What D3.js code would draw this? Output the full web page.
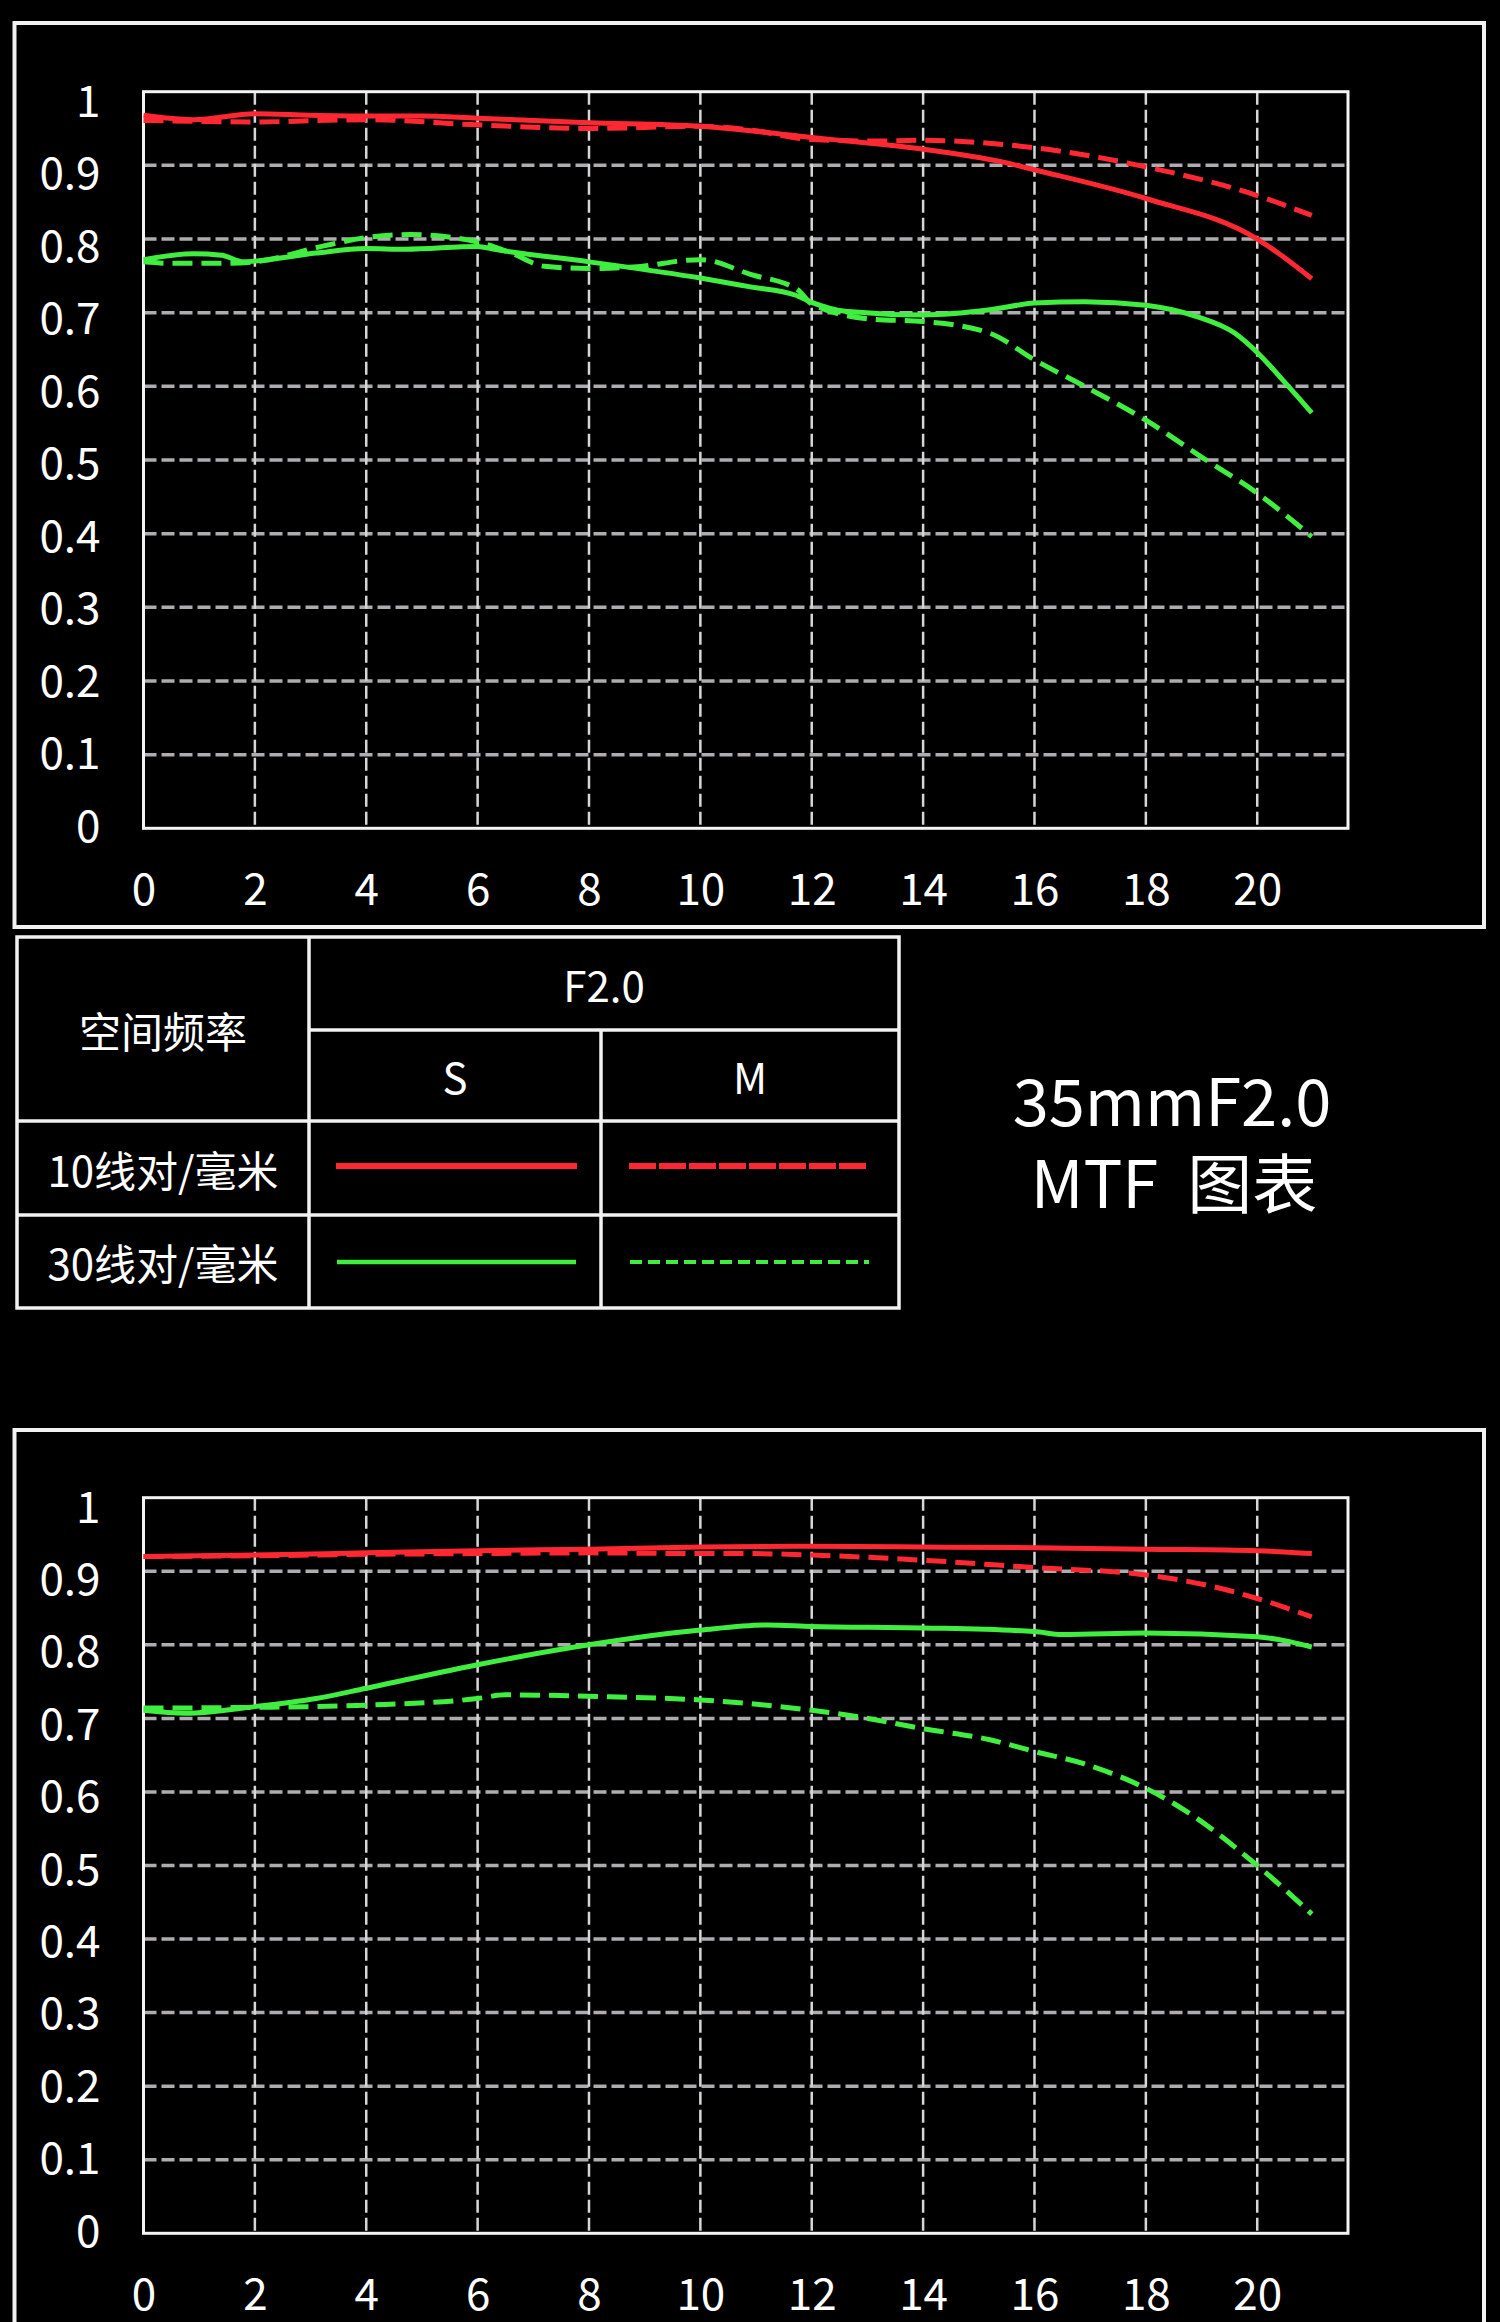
<!DOCTYPE html>
<html>
<head>
<meta charset="utf-8">
<script src="https://cdn.jsdelivr.net/npm/d3@7"></script>
<style>
html,body{margin:0;padding:0;background:#000;}
svg{display:block;}
text{font-family:"Noto Sans CJK SC","Noto Sans",sans-serif;fill:#fff;}
</style>
</head>
<body>
<svg id="chart" width="1500" height="2322"></svg>
<script>
// ---------- data ----------
const xTicks = [0, 2, 4, 6, 8, 10, 12, 14, 16, 18, 20];
const yTicks = [0, 0.1, 0.2, 0.3, 0.4, 0.5, 0.6, 0.7, 0.8, 0.9, 1];
const yTickLabels = ["0", "0.1", "0.2", "0.3", "0.4", "0.5", "0.6", "0.7", "0.8", "0.9", "1"];
const xMax = 21.63;

// chart 1 (top)
const top10S = [[0,0.968],[0.9,0.962],[2,0.970],[3,0.968],[4,0.967],[5,0.967],[6,0.964],[8,0.958],[10,0.953],[10.9,0.947],[12,0.938],[14,0.922],[15.4,0.905],[16,0.894],[18,0.855],[20,0.800],[20.43,0.778],[20.98,0.746]];
const top10M = [[0,0.961],[2,0.959],[4,0.962],[6,0.955],[8,0.950],[10,0.953],[10.9,0.948],[12,0.935],[13.1,0.933],[14,0.934],[15,0.931],[16,0.924],[18,0.898],[20,0.859],[20.98,0.832]];
const top30S = [[0,0.772],[0.9,0.780],[1.4,0.778],[1.8,0.769],[2,0.770],[3.1,0.781],[4,0.787],[4.7,0.786],[6,0.790],[6.3,0.786],[8,0.769],[10,0.747],[10.9,0.735],[11.7,0.724],[12,0.714],[12.6,0.702],[14,0.697],[15.2,0.704],[16,0.713],[16.9,0.715],[18,0.710],[18.9,0.695],[19.6,0.672],[20,0.646],[20.5,0.605],[20.98,0.564]];
const top30M = [[0,0.769],[0.5,0.767],[1.5,0.767],[2,0.769],[3.2,0.790],[4,0.802],[4.8,0.806],[6,0.796],[6.6,0.781],[7.2,0.763],[8,0.760],[8.8,0.762],[10,0.772],[10.9,0.752],[11.75,0.731],[12,0.712],[13.1,0.691],[14,0.688],[15.2,0.672],[16,0.636],[16.9,0.600],[18,0.554],[19,0.504],[20,0.455],[20.98,0.396]];

// chart 2 (bottom)
const bot10S = [[0,0.920],[2,0.922],[4,0.925],[6,0.928],[8,0.930],[10,0.933],[12,0.934],[14,0.933],[16,0.932],[18,0.930],[20,0.928],[20.98,0.924]];
const bot10M = [[0,0.920],[2,0.921],[4,0.923],[6,0.924],[8,0.925],[10,0.924],[10.9,0.924],[12,0.922],[14,0.915],[16,0.905],[18,0.895],[19.1,0.881],[20,0.863],[20.98,0.838]];
const bot30S = [[0,0.711],[0.75,0.707],[2,0.716],[3.1,0.727],[4,0.741],[6,0.773],[8,0.800],[10,0.820],[11.2,0.827],[12,0.825],[14,0.823],[16,0.818],[16.5,0.814],[18,0.816],[20,0.811],[20.6,0.804],[20.98,0.797]];
const bot30M = [[0,0.714],[2,0.715],[4,0.718],[6,0.727],[6.5,0.732],[8,0.730],[10,0.725],[10.9,0.720],[12,0.711],[12.6,0.705],[14,0.686],[15.2,0.671],[16,0.655],[16.9,0.638],[18,0.605],[18.7,0.575],[20,0.500],[20.98,0.434]];

// legend / labels
const tableRowLabels = ["10线对/毫米", "30线对/毫米"];
const tableHeader = ["空间频率", "F2.0", "S", "M"];
const titleLines = ["35mmF2.0", "MTF  图表"];

// ---------- drawing ----------
const RED = "#ff2832", GREEN = "#40ee40";
const svg = d3.select("#chart");
svg.append("rect").attr("width", 1500).attr("height", 2322).attr("fill", "#000");

const plotLeft = 143.5, plotRight = 1348;
const x = d3.scaleLinear().domain([0, xMax]).range([plotLeft, plotRight]);

function drawChart(frameTop, frameBottom, plotTop, plotBottom, series) {
  // outer frame
  svg.append("rect").attr("x", 14.5).attr("y", frameTop).attr("width", 1469.5)
    .attr("height", frameBottom - frameTop).attr("fill", "none")
    .attr("stroke", "#f2f2f2").attr("stroke-width", 4);

  const y = d3.scaleLinear().domain([0, 1]).range([plotBottom, plotTop]);
  // label positions sit slightly off the grid in the reference
  const yLab = d3.scaleLinear().domain([0, 1]).range([plotBottom - 3, plotTop + 8.5]);
  const g = svg.append("g");

  // horizontal grid
  g.selectAll(".hg").data(yTicks.filter(v => v > 0 && v < 1)).enter().append("line")
    .attr("x1", plotLeft).attr("x2", plotRight).attr("y1", d => y(d)).attr("y2", d => y(d))
    .attr("stroke", "#aeacb0").attr("stroke-width", 3.5).attr("stroke-dasharray", "13,5");
  // vertical grid
  g.selectAll(".vg").data(xTicks.filter(v => v > 0)).enter().append("line")
    .attr("x1", d => x(d)).attr("x2", d => x(d)).attr("y1", plotTop).attr("y2", plotBottom)
    .attr("stroke", "#d6d6d6").attr("stroke-width", 2.5).attr("stroke-dasharray", "13,5");

  // plot frame
  g.append("rect").attr("x", plotLeft).attr("y", plotTop).attr("width", plotRight - plotLeft)
    .attr("height", plotBottom - plotTop).attr("fill", "none").attr("stroke", "#f4f4f4").attr("stroke-width", 3);

  // axes (labels only)
  const yAxis = d3.axisLeft(yLab).tickValues(yTicks).tickSize(0).tickPadding(0)
    .tickFormat((d, i) => yTickLabels[i]);
  const ya = g.append("g").attr("transform", `translate(${plotLeft - 43},0)`).call(yAxis);
  ya.select(".domain").remove();
  ya.selectAll("text").attr("font-size", 44).attr("fill", "#fff")
    .attr("font-family", '"Noto Sans CJK SC", sans-serif').attr("dy", "0.36em");

  const xAxis = d3.axisBottom(x).tickValues(xTicks).tickSize(0).tickPadding(0).tickFormat(d3.format("d"));
  const xa = g.append("g").attr("transform", `translate(0,${plotBottom + 77})`).call(xAxis);
  xa.select(".domain").remove();
  xa.selectAll("text").attr("font-size", 44).attr("fill", "#fff")
    .attr("font-family", '"Noto Sans CJK SC", sans-serif').attr("dy", "0");

  const line = d3.line().x(d => x(d[0])).y(d => y(d[1])).curve(d3.curveMonotoneX);
  series.forEach(s => {
    g.append("path").datum(s.data).attr("d", line).attr("fill", "none")
      .attr("stroke", s.color).attr("stroke-width", 5)
      .attr("stroke-dasharray", s.dash ? "20,9" : null).attr("stroke-linejoin", "round");
  });
}

drawChart(23, 927, 91.7, 828.3, [
  {data: top30M, color: GREEN, dash: true},
  {data: top30S, color: GREEN, dash: false},
  {data: top10M, color: RED, dash: true},
  {data: top10S, color: RED, dash: false}
]);
drawChart(1430, 2340, 1497.7, 2233.3, [
  {data: bot30M, color: GREEN, dash: true},
  {data: bot30S, color: GREEN, dash: false},
  {data: bot10M, color: RED, dash: true},
  {data: bot10S, color: RED, dash: false}
]);

// ---------- legend table ----------
const T = svg.append("g");
const tL = 17, tR = 899, tT = 937, tB = 1308, c1 = 309, c2 = 601, r1 = 1030, r2 = 1121, r3 = 1215;
const tableStroke = {stroke: "#f2f2f2", w: 3.5};
function tl(x1, y1, x2, y2) {
  T.append("line").attr("x1", x1).attr("y1", y1).attr("x2", x2).attr("y2", y2)
    .attr("stroke", tableStroke.stroke).attr("stroke-width", tableStroke.w);
}
T.append("rect").attr("x", tL).attr("y", tT).attr("width", tR - tL).attr("height", tB - tT)
  .attr("fill", "none").attr("stroke", tableStroke.stroke).attr("stroke-width", tableStroke.w);
tl(c1, tT, c1, tB);
tl(c2, r1, c2, tB);
tl(c1, r1, tR, r1);
tl(tL, r2, tR, r2);
tl(tL, r3, tR, r3);

function ttext(t, cx, cy, size) {
  T.append("text").attr("x", cx).attr("y", cy).attr("text-anchor", "middle")
    .attr("dominant-baseline", "central").attr("font-size", size).text(t);
}
ttext(tableHeader[0], (tL + c1) / 2, (tT + r2) / 2, 42);
ttext(tableHeader[1], (c1 + tR) / 2, (tT + r1) / 2, 42);
ttext(tableHeader[2], (c1 + c2) / 2, (r1 + r2) / 2, 42);
ttext(tableHeader[3], (c2 + tR) / 2, (r1 + r2) / 2, 42);
ttext(tableRowLabels[0], (tL + c1) / 2, (r2 + r3) / 2, 42);
ttext(tableRowLabels[1], (tL + c1) / 2, (r3 + tB) / 2, 42);

// legend samples
T.append("line").attr("x1", 336).attr("x2", 577).attr("y1", 1166).attr("y2", 1166)
  .attr("stroke", RED).attr("stroke-width", 6);
T.append("line").attr("x1", 629).attr("x2", 867).attr("y1", 1166).attr("y2", 1166)
  .attr("stroke", RED).attr("stroke-width", 6).attr("stroke-dasharray", "27,3");
T.append("line").attr("x1", 337).attr("x2", 576).attr("y1", 1262).attr("y2", 1262)
  .attr("stroke", GREEN).attr("stroke-width", 4.5);
T.append("line").attr("x1", 630).attr("x2", 869).attr("y1", 1262).attr("y2", 1262)
  .attr("stroke", GREEN).attr("stroke-width", 4).attr("stroke-dasharray", "12,6");

// title
svg.append("text").attr("x", 1172).attr("y", 1126).attr("text-anchor", "middle")
  .attr("font-size", 65).text(titleLines[0]);
svg.append("text").attr("x", 1174).attr("y", 1208).attr("text-anchor", "middle")
  .attr("font-size", 65).attr("xml:space", "preserve").style("white-space", "pre").text(titleLines[1]);
</script>
</body>
</html>
